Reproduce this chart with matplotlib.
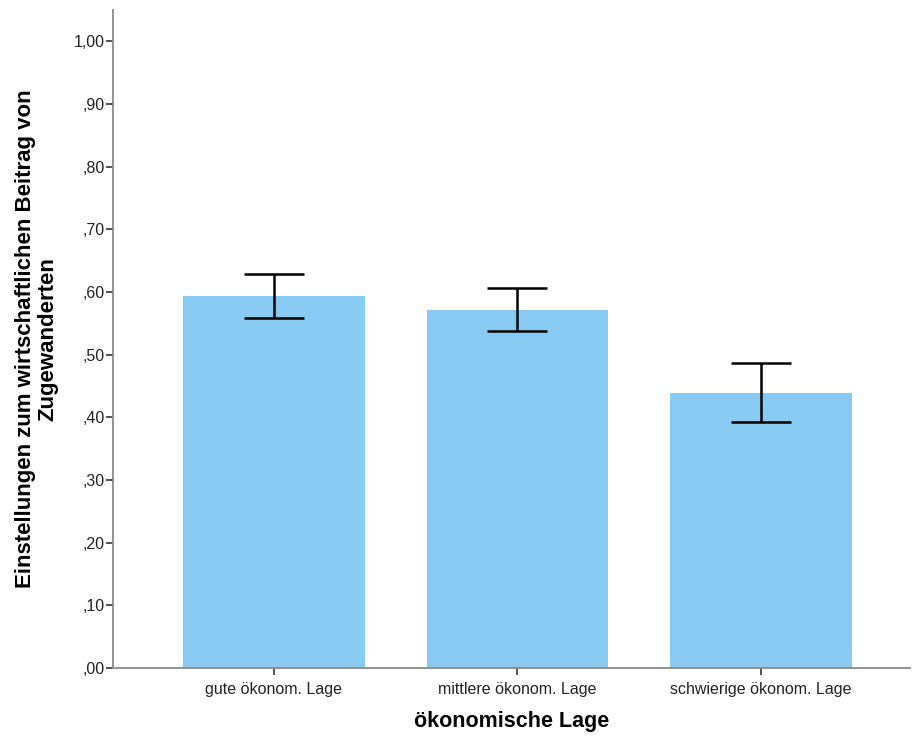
#!/usr/bin/env python
# coding:utf-8
"""plot.py - Balkendiagramm mit Fehlerbalken (SPSS-Stil)"""

import matplotlib
matplotlib.use('Agg')
import matplotlib.pyplot as plt
from matplotlib.ticker import FuncFormatter

categories = ['gute ökonom. Lage', 'mittlere ökonom. Lage', 'schwierige ökonom. Lage']
means = [0.593, 0.571, 0.439]
ci_low = [0.558, 0.537, 0.393]
ci_high = [0.628, 0.607, 0.487]
y_ticks = [0.0, 0.1, 0.2, 0.3, 0.4, 0.5, 0.6, 0.7, 0.8, 0.9, 1.0]


def fmt_tick(v, pos):
  # SPSS schreibt ,50 statt 0,50
  s = '%.2f' % v
  s = s.replace('.', ',')
  if s.startswith('0'):
    s = s[1:]
  return s


def main():
  plt.rcParams['font.family'] = ['Liberation Sans', 'DejaVu Sans']
  fig = plt.figure(figsize=(9.13, 7.38), dpi=100)
  ax = fig.add_axes([0.1238, 0.0949, 0.8729, 0.8915])

  x = list(range(len(categories)))
  err_lo = [m - l for m, l in zip(means, ci_low)]
  err_hi = [h - m for m, h in zip(means, ci_high)]
  ax.bar(x, means, width=0.747, color='#89caf2', zorder=2)
  ax.errorbar(x, means, yerr=[err_lo, err_hi], fmt='none', ecolor='black',
              elinewidth=1.8, capsize=21.5, capthick=1.8, zorder=3)

  ax.set_xlim(-0.661, 2.612)
  ax.set_ylim(0, 1.05)
  ax.set_yticks(y_ticks)
  ax.yaxis.set_major_formatter(FuncFormatter(fmt_tick))
  ax.set_xticks(x)
  ax.set_xticklabels(categories)

  for side in ['top', 'right']:
    ax.spines[side].set_visible(False)
  for side in ['left', 'bottom']:
    ax.spines[side].set_color('#8a8a8a')
    ax.spines[side].set_linewidth(1.3)
  ax.tick_params(axis='both', direction='out', length=5, width=1.2,
                 color='#333333', labelsize=11.5, labelcolor='#222222')
  ax.tick_params(axis='y', pad=1)
  ax.tick_params(axis='x', pad=5)

  ax.set_xlabel('ökonomische Lage', fontsize=15.5, fontweight='bold', labelpad=10)
  ax.set_ylabel('Einstellungen zum wirtschaftlichen Beitrag von\nZugewanderten',
                fontsize=16, fontweight='bold', labelpad=11, linespacing=1.08)

  fig.savefig('out.png', dpi=100)
  plt.close(fig)


if __name__ == '__main__':
  main()
